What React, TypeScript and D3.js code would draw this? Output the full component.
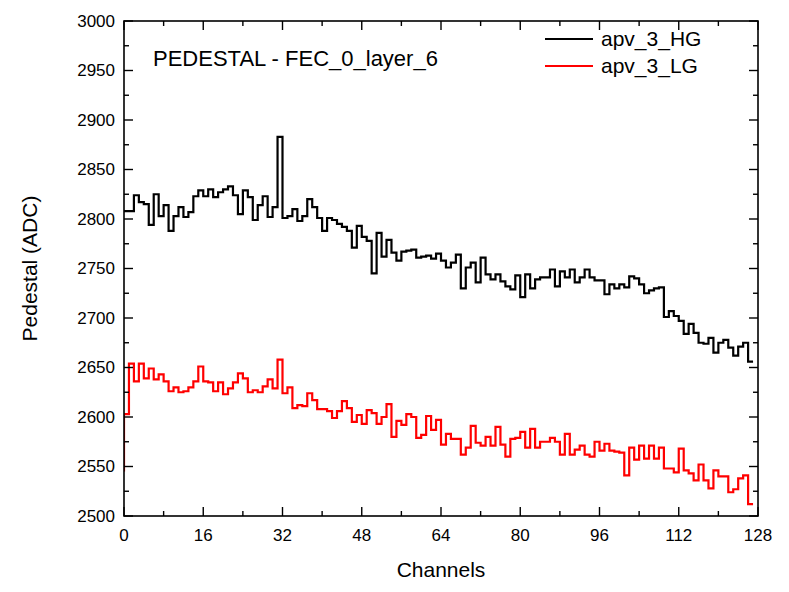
import React from 'react';
import * as d3 from 'd3';

// pedestal per channel (channel 0..127)
const hgValues = [
  2808, 2808, 2808, 2824, 2817, 2815, 2794, 2825, 2803, 2814, 2788, 2803, 2812, 2802, 2807, 2823,
  2829, 2823, 2830, 2822, 2827, 2830, 2833, 2824, 2805, 2829, 2822, 2799, 2814, 2823, 2802, 2812,
  2883, 2801, 2803, 2810, 2798, 2803, 2820, 2812, 2801, 2788, 2801, 2799, 2795, 2792, 2788, 2771,
  2793, 2782, 2778, 2745, 2786, 2762, 2779, 2766, 2758, 2767, 2768, 2769, 2761, 2762, 2763, 2760,
  2765, 2758, 2751, 2756, 2764, 2730, 2751, 2756, 2736, 2761, 2744, 2739, 2744, 2737, 2732, 2729,
  2743, 2721, 2744, 2730, 2739, 2741, 2741, 2749, 2732, 2747, 2741, 2749, 2736, 2741, 2749, 2741,
  2738, 2738, 2724, 2734, 2730, 2734, 2731, 2742, 2740, 2734, 2725, 2728, 2730, 2731, 2701, 2707,
  2702, 2697, 2684, 2694, 2685, 2675, 2674, 2680, 2665, 2675, 2678, 2670, 2662, 2671, 2675, 2656,
];

const lgValues = [
  2545, 2603, 2654, 2636, 2654, 2639, 2649, 2638, 2643, 2636, 2626, 2630, 2625, 2626, 2630, 2636,
  2651, 2636, 2635, 2626, 2635, 2623, 2629, 2635, 2644, 2639, 2625, 2627, 2625, 2631, 2638, 2629,
  2658, 2624, 2630, 2609, 2612, 2611, 2624, 2617, 2608, 2608, 2606, 2599, 2606, 2616, 2609, 2595,
  2602, 2593, 2607, 2604, 2593, 2600, 2613, 2580, 2596, 2592, 2603, 2600, 2579, 2582, 2601, 2587,
  2597, 2572, 2583, 2578, 2578, 2562, 2569, 2591, 2574, 2571, 2580, 2571, 2590, 2572, 2560, 2578,
  2579, 2585, 2569, 2588, 2569, 2575, 2575, 2579, 2575, 2562, 2583, 2562, 2567, 2571, 2562, 2560,
  2575, 2566, 2573, 2566, 2565, 2564, 2541, 2569, 2557, 2571, 2558, 2571, 2558, 2569, 2548, 2548,
  2544, 2568, 2546, 2543, 2536, 2552, 2536, 2528, 2546, 2540, 2540, 2524, 2527, 2538, 2541, 2512,
];

const seriesNames = ['apv_3_HG', 'apv_3_LG'];
const seriesColors = ['#000000', '#ff0000'];
const xTickValues = [0, 16, 32, 48, 64, 80, 96, 112, 128];
const yTickValues = [2500, 2550, 2600, 2650, 2700, 2750, 2800, 2850, 2900, 2950, 3000];

const W = 789;
const H = 592;
const margin = { top: 21, right: 31, bottom: 76, left: 124 };
const font = 'Arial, "Liberation Sans", sans-serif';

export default function App() {
  const iw = W - margin.left - margin.right;
  const ih = H - margin.top - margin.bottom;

  const x = d3.scaleLinear().domain([0, 128]).range([0, iw]);
  const y = d3.scaleLinear().domain([2500, 3000]).range([ih, 0]);

  const line = d3.line<number>()
    .x((d, i) => x(i))
    .y(d => y(d))
    .curve(d3.curveStepBefore);

  const xMinor = d3.range(8, 128, 16);
  const yMinor = d3.range(2525, 3000, 50);

  const series = [hgValues, lgValues];

  return (
    <svg width={W} height={H} style={{ position: 'absolute', left: 0, top: 0, background: '#fff' }}
      fontFamily={font}>
      <g transform={`translate(${margin.left},${margin.top})`}>
        <defs>
          <clipPath id="plot">
            <rect x={0} y={0} width={iw} height={ih} />
          </clipPath>
        </defs>

        {series.map((s, k) => (
          <path key={k} d={line(s) || ''} fill="none" stroke={seriesColors[k]}
            strokeWidth={2.2} strokeLinejoin="miter" clipPath="url(#plot)" />
        ))}

        {/* frame */}
        <rect x={0} y={0} width={iw} height={ih} fill="none" stroke="#000" strokeWidth={1.6} />

        {/* x ticks, inward on bottom and top */}
        {xTickValues.map(t => (
          <g key={'xt' + t}>
            <line x1={x(t)} x2={x(t)} y1={ih} y2={ih - 9} stroke="#000" strokeWidth={1.4} />
            <line x1={x(t)} x2={x(t)} y1={0} y2={9} stroke="#000" strokeWidth={1.4} />
            <text x={x(t)} y={ih + 25} textAnchor="middle" fontSize={17}>{t}</text>
          </g>
        ))}
        {xMinor.map(t => (
          <g key={'xm' + t}>
            <line x1={x(t)} x2={x(t)} y1={ih} y2={ih - 5} stroke="#000" strokeWidth={1.4} />
            <line x1={x(t)} x2={x(t)} y1={0} y2={5} stroke="#000" strokeWidth={1.4} />
          </g>
        ))}

        {/* y ticks, inward on left and right */}
        {yTickValues.map(t => (
          <g key={'yt' + t}>
            <line x1={0} x2={9} y1={y(t)} y2={y(t)} stroke="#000" strokeWidth={1.4} />
            <line x1={iw} x2={iw - 9} y1={y(t)} y2={y(t)} stroke="#000" strokeWidth={1.4} />
            <text x={-9} y={y(t)} dy="0.35em" textAnchor="end" fontSize={17}>{t}</text>
          </g>
        ))}
        {yMinor.map(t => (
          <g key={'ym' + t}>
            <line x1={0} x2={5} y1={y(t)} y2={y(t)} stroke="#000" strokeWidth={1.4} />
            <line x1={iw} x2={iw - 5} y1={y(t)} y2={y(t)} stroke="#000" strokeWidth={1.4} />
          </g>
        ))}

        {/* axis titles */}
        <text x={iw / 2} y={ih + 61} textAnchor="middle" fontSize={21}>Channels</text>
        <text transform={`translate(${-87},${ih / 2}) rotate(-90)`} textAnchor="middle" fontSize={21}>
          Pedestal (ADC)
        </text>

        {/* title */}
        <text x={29} y={45} fontSize={22}>PEDESTAL - FEC_0_layer_6</text>

        {/* legend */}
        {seriesNames.map((n, k) => (
          <g key={n} transform={`translate(${421},${18 + k * 27})`}>
            <line x1={0} x2={48} y1={0} y2={0} stroke={seriesColors[k]} strokeWidth={2.2} />
            <text x={56} y={0} dy="0.35em" fontSize={21}>{n}</text>
          </g>
        ))}
      </g>
    </svg>
  );
}
